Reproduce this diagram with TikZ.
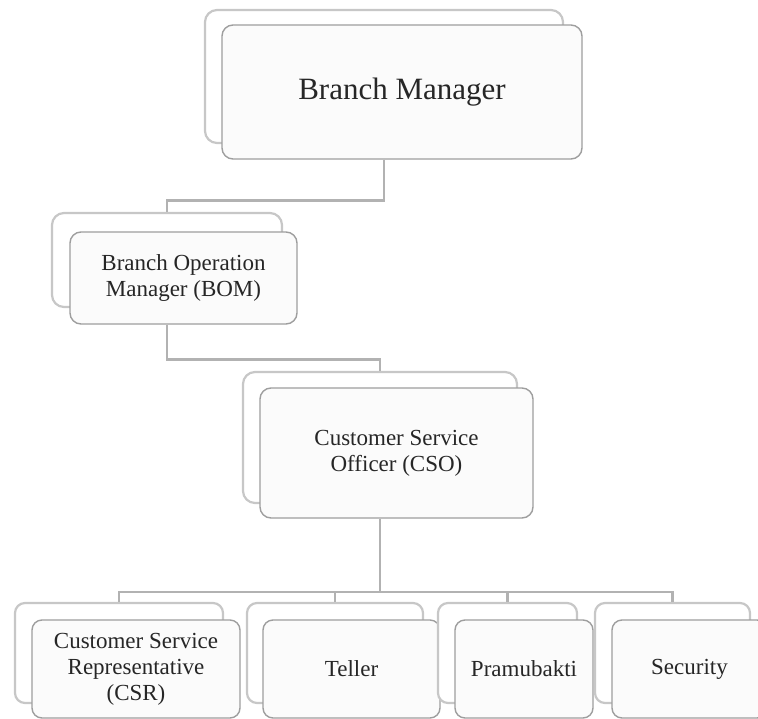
\documentclass[tikz,border=0pt]{standalone}
\usepackage{fontspec}
\setmainfont{Liberation Serif}
\begin{document}
\begin{tikzpicture}[x=1pt,y=-1pt,
  backbox/.style={draw=black!22, line width=2.2pt, fill=white, rounded corners=12pt, inner sep=0pt},
  frontbox/.style={draw=black!38, line width=1.4pt, fill=black!1.5, rounded corners=11pt, inner sep=0pt, text=black!85, align=center, font=\fontsize{23}{26}\selectfont},
  conn/.style={draw=black!30, line width=2.6pt}]
\useasboundingbox (0,0) rectangle (758,718);
\clip (0,0) rectangle (758,718);
% Branch Manager
\node[backbox, minimum width=358pt, minimum height=133pt] (bmb) at (384,76.5) {};
\node[frontbox, minimum width=360pt, minimum height=134pt, font=\fontsize{31}{36}\selectfont] (bm) at (402,92) {Branch Manager};
% BOM
\node[backbox, minimum width=230pt, minimum height=94pt] (bomb) at (167,260) {};
\node[frontbox, minimum width=227pt, minimum height=92pt] (bom) at (183.5,278) {Branch Operation\\Manager (BOM)};
% CSO
\node[backbox, minimum width=274pt, minimum height=131pt] (csob) at (380,437.5) {};
\node[frontbox, minimum width=273pt, minimum height=130pt] (cso) at (396.5,453) {Customer Service\\Officer (CSO)};
% bottom row
\node[backbox, minimum width=208pt, minimum height=100pt, rounded corners=10pt] (csrb) at (119,653) {};
\node[frontbox, minimum width=208pt, minimum height=98pt, rounded corners=10pt] (csr) at (136,669) {Customer Service\\Representative\\(CSR)};
\node[backbox, minimum width=176pt, minimum height=100pt, rounded corners=10pt] (telb) at (335,653) {};
\node[frontbox, minimum width=177pt, minimum height=98pt, rounded corners=10pt] (tel) at (351.5,669) {Teller};
\node[backbox, minimum width=139pt, minimum height=100pt, rounded corners=10pt] (pramb) at (507.5,653) {};
\node[frontbox, minimum width=138pt, minimum height=98pt, rounded corners=10pt] (pram) at (524,669) {Pramubakti};
\node[backbox, minimum width=155pt, minimum height=100pt, rounded corners=10pt] (secb) at (672.5,653) {};
\node[frontbox, minimum width=155pt, minimum height=98pt, rounded corners=10pt] (sec) at (689.5,669) {Security};
% connectors
\draw[conn] (bm.south -| bmb.center) -- ++(0,41) -| (bomb.north);
\draw[conn] (bom.south -| bomb.center) -- ++(0,35) -| (csob.north);
\coordinate (hub) at (380,592);
\draw[conn] (cso.south -| csob.center) -- (hub);
\draw[conn] (hub) -| (csrb.north);
\draw[conn] (hub) -| (telb.north);
\draw[conn] (hub) -| (pramb.north);
\draw[conn] (hub) -| (secb.north);
\end{tikzpicture}
\end{document}
